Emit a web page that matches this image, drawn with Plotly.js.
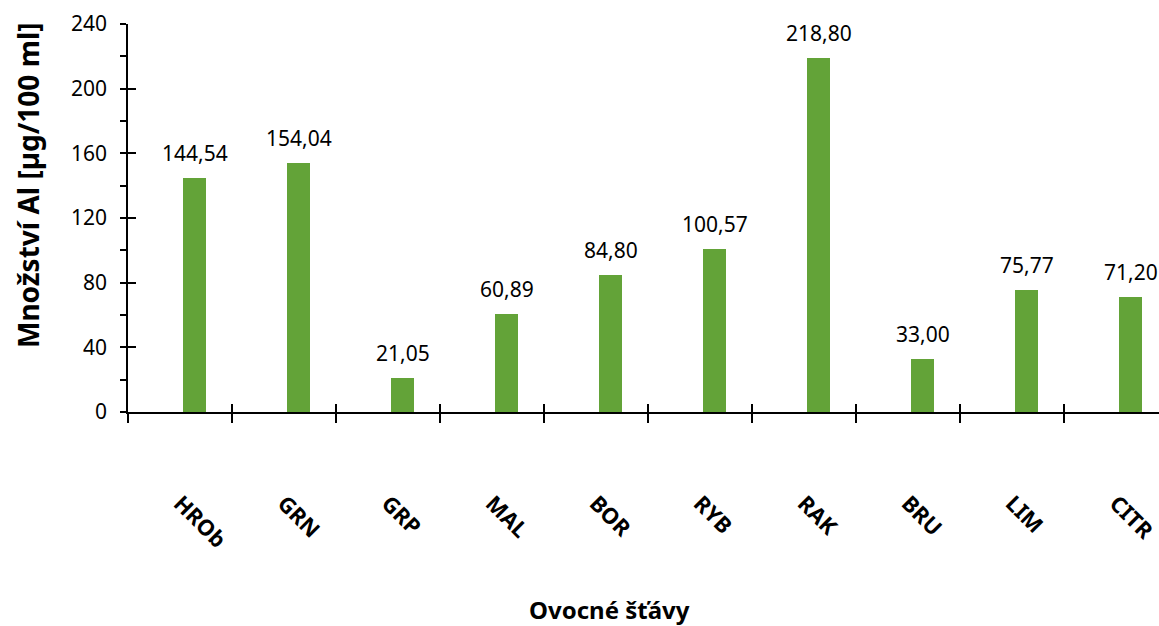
<!DOCTYPE html>
<html>
<head>
<meta charset="utf-8">
<script src="https://cdn.plot.ly/plotly-3.0.1.min.js"></script>
<style>html,body{margin:0;padding:0;background:#fff;}#chart{width:1159px;height:626px;}</style>
</head>
<body>
<div id="chart"></div>
<script>
const categories = ["HROb", "GRN", "GRP", "MAL", "BOR", "RYB", "RAK", "BRU", "LIM", "CITR"];
const values = [144.54, 154.04, 21.05, 60.89, 84.80, 100.57, 218.80, 33.00, 75.77, 71.20];
const yTicks = [0, 40, 80, 120, 160, 200, 240];
const yTitle = "Množství Al [µg/100 ml]";
const xTitle = "Ovocné šťávy";

const FONT = "Noto Sans, Open Sans, sans-serif";
const green = "#63A338";

const traces = [
  {
    type: "bar", x: categories, y: values, width: 0.22, offset: 0.03,
    marker: {color: green}, hoverinfo: "skip", showlegend: false
  },
  {
    type: "bar", x: categories, y: values, width: 0.22, offset: 0.03, xaxis: "x2", yaxis: "y2",
    marker: {color: "rgba(0,0,0,0)"}, hoverinfo: "skip", showlegend: false
  }
];

const annotations = categories.map((c, i) => ({
  x: c, y: values[i], xref: "x", yref: "y", xshift: 15,
  text: values[i].toFixed(2).replace(".", ","),
  showarrow: false, yanchor: "bottom", yshift: 9,
  font: {family: FONT, size: 21, color: "#000"}
}));
annotations.push({
  text: "<b>" + xTitle + "</b>", xref: "paper", yref: "paper",
  x: 0.4675, y: 0, yshift: -197, xanchor: "center", yanchor: "middle",
  showarrow: false, font: {family: FONT, size: 24, color: "#000"}
});
annotations.push({
  text: "<b>" + yTitle + "</b>", xref: "paper", yref: "paper",
  x: 0, xshift: -100, y: 0.585, xanchor: "center", yanchor: "middle", textangle: -90,
  showarrow: false, font: {family: FONT, size: 28, color: "#000"}
});

const xRange = [-0.5, 9.5 - 9/104];

const layout = {
  width: 1159, height: 626,
  margin: {l: 128, r: 0, t: 24, b: 214},
  paper_bgcolor: "#fff", plot_bgcolor: "#fff",
  font: {family: FONT, color: "#000"},
  showlegend: false,
  bargap: 0,
  xaxis: {
    type: "category", range: xRange, tickson: "boundaries",
    showline: true, linecolor: "#000", linewidth: 1.8,
    ticks: "outside", ticklen: 9, tickwidth: 1.8, tickcolor: "#000",
    tickangle: 45, ticklabelstandoff: 68,
    tickfont: {family: FONT, size: 22, color: "#000", weight: "bold"},
    showgrid: false, zeroline: false, fixedrange: true
  },
  xaxis2: {
    type: "category", range: xRange, tickson: "boundaries", overlaying: "x",
    ticks: "inside", ticklen: 8, tickwidth: 1.8, tickcolor: "#000",
    showticklabels: false, showgrid: false, zeroline: false, showline: false
  },
  yaxis: {
    range: [0, 240], tickvals: yTicks,
    showline: true, linecolor: "#000", linewidth: 1.8,
    ticks: "outside", ticklen: 6, tickwidth: 1.8, tickcolor: "#000",
    minor: {dtick: 20, ticks: "outside", ticklen: 6, tickwidth: 1.8, tickcolor: "#000", showgrid: false},
    ticklabelstandoff: 9,
    tickfont: {family: FONT, size: 21, color: "#000"},
    showgrid: false, zeroline: false
  },
  yaxis2: {
    range: [0, 240], tickvals: yTicks, overlaying: "y",
    ticks: "inside", ticklen: 8, tickwidth: 1.8, tickcolor: "#000",
    showticklabels: false, showgrid: false, zeroline: false, showline: false
  },
  annotations: annotations
};

Plotly.newPlot("chart", traces, layout, {displayModeBar: false, staticPlot: true});
</script>
</body>
</html>
